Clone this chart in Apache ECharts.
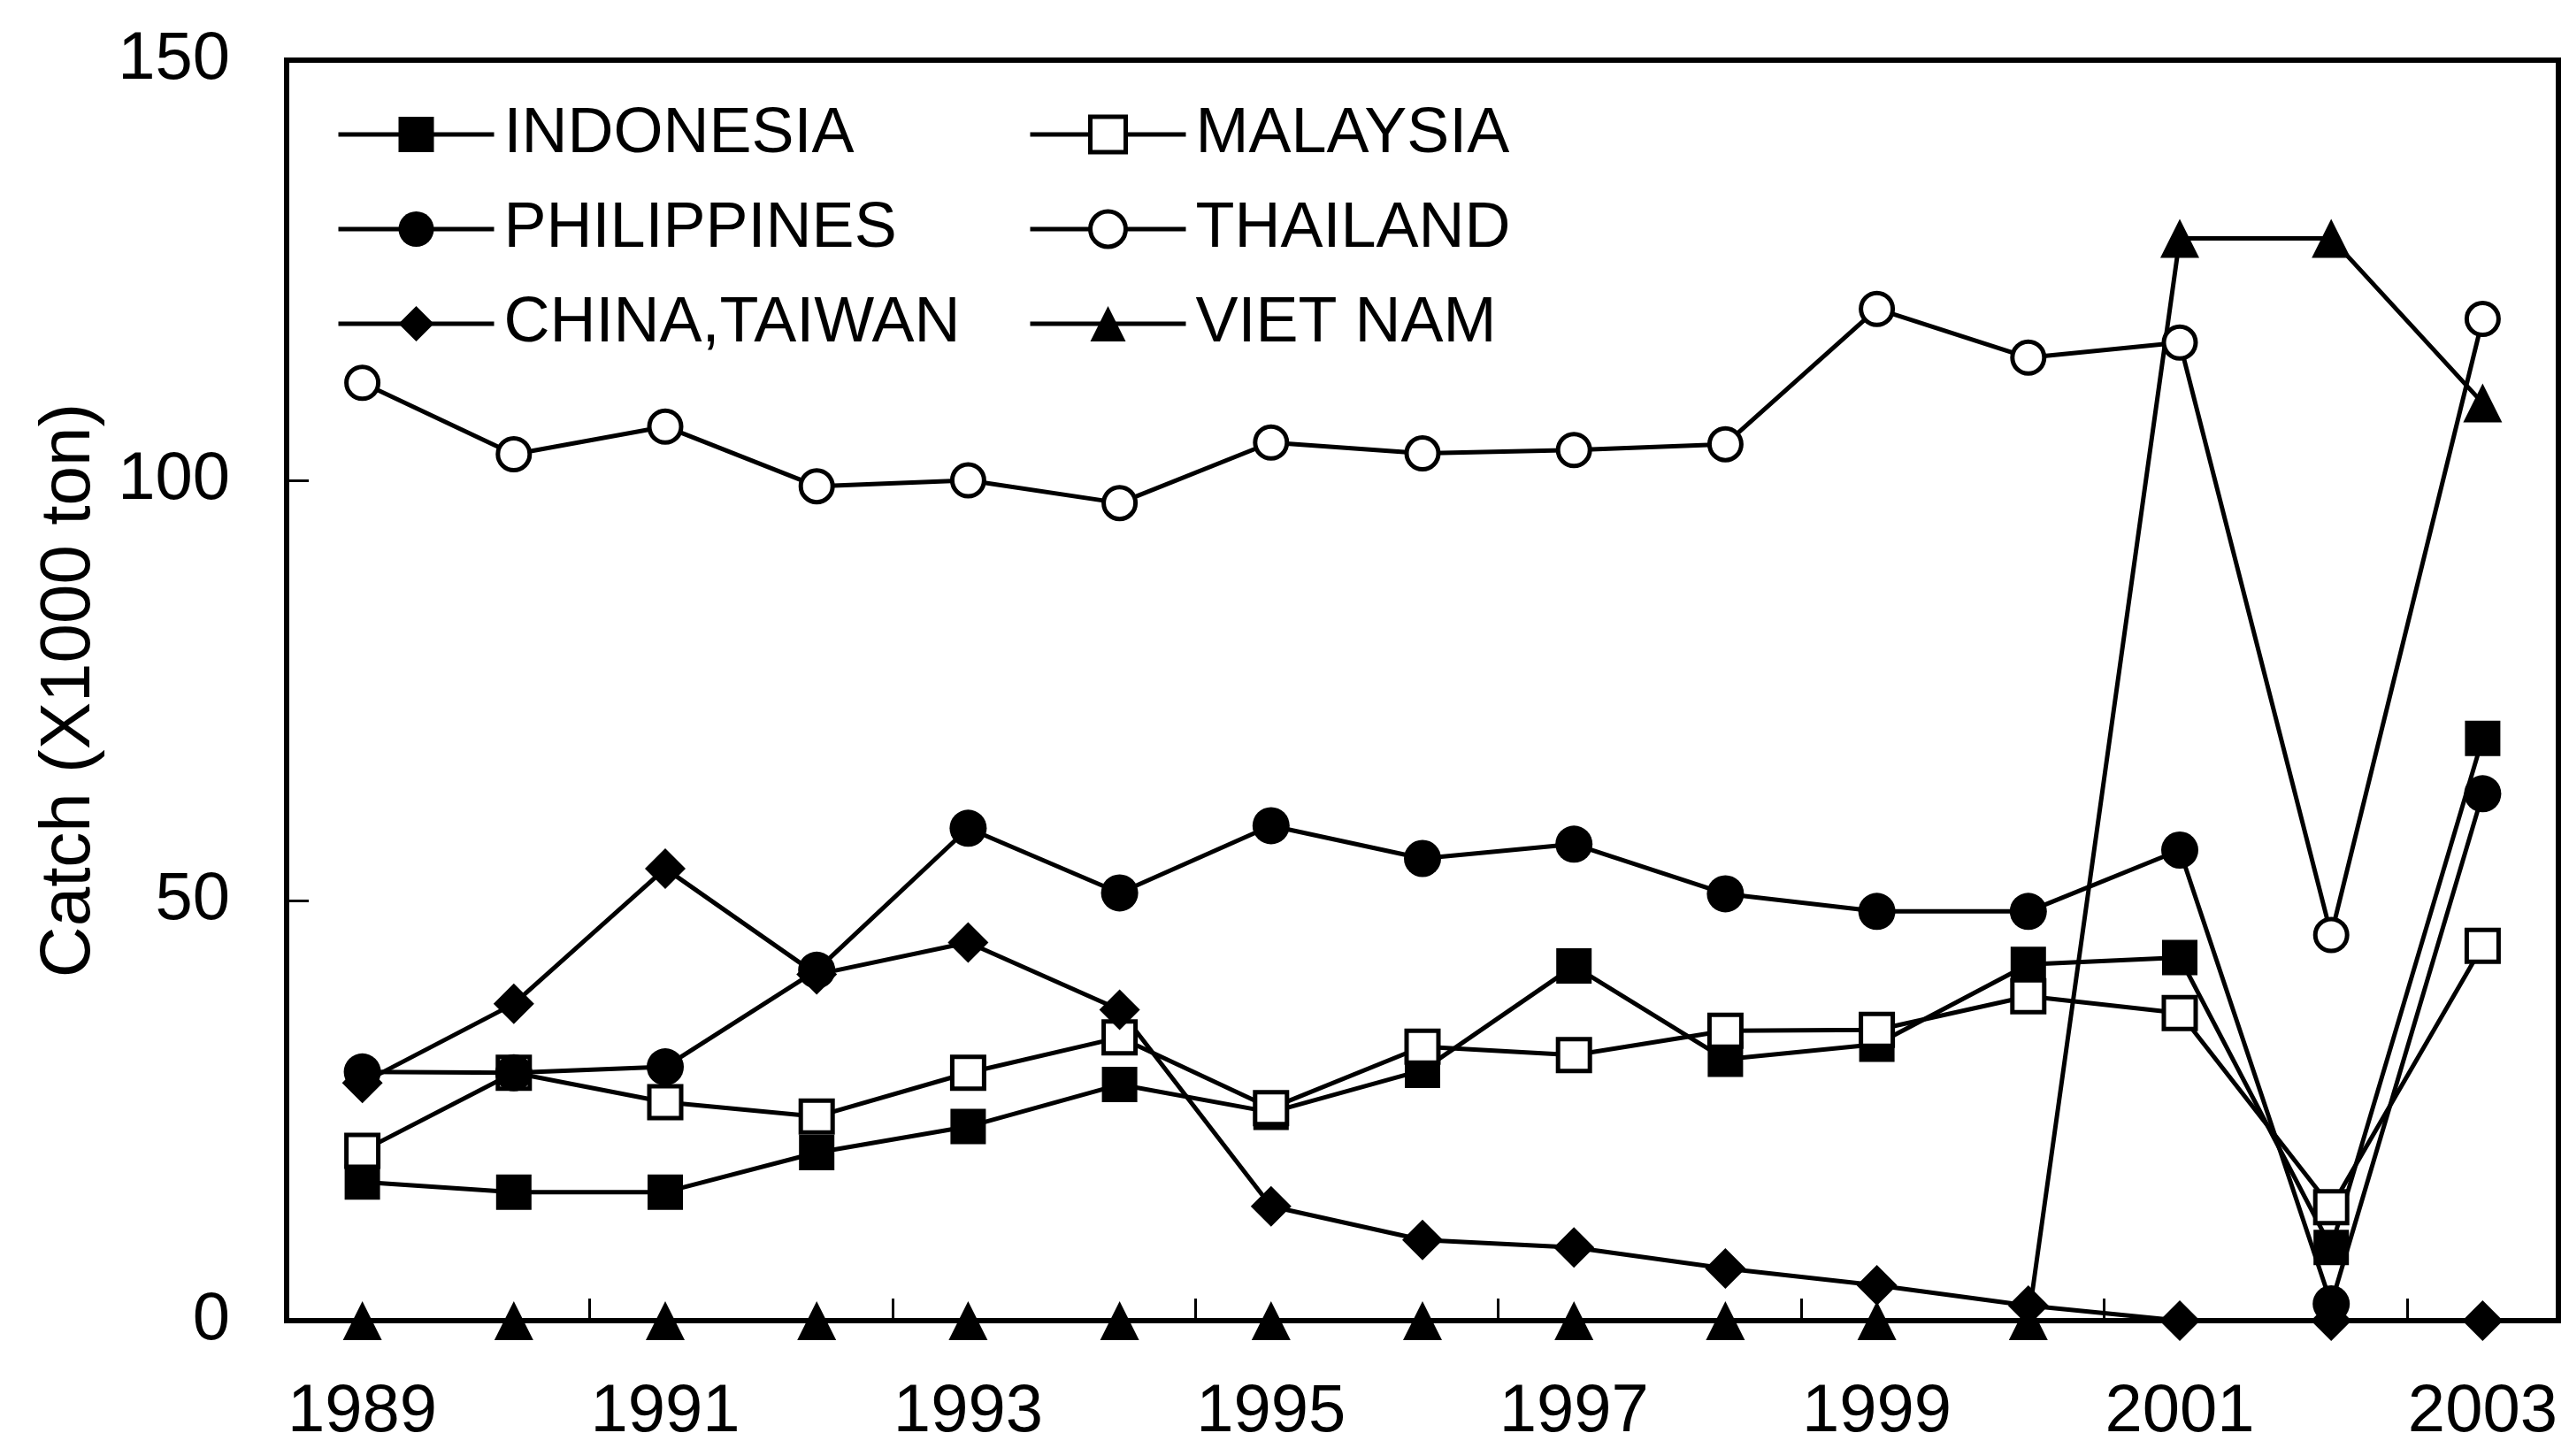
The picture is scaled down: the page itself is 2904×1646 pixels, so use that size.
<!DOCTYPE html>
<html>
<head>
<meta charset="utf-8">
<script src="https://cdn.jsdelivr.net/npm/echarts@6/dist/echarts.min.js"></script>
<style>
html,body{margin:0;padding:0;background:#fff;}
#chart{width:2904px;height:1646px;}
</style>
</head>
<body>
<div id="chart"></div>
<script>
const years = ['1989','1990','1991','1992','1993','1994','1995','1996','1997','1998','1999','2000','2001','2002','2003'];
const indonesia   = [16.5, 15.3, 15.3, 20.0, 23.1, 28.1, 24.8, 29.8, 42.2, 31.1, 32.9, 42.4, 43.2, 8.7, 69.3];
const malaysia    = [20.2, 29.5, 26.0, 24.3, 29.5, 33.7, 25.3, 32.6, 31.6, 34.5, 34.6, 38.6, 36.6, 13.5, 44.6];
const philippines = [29.6, 29.5, 30.2, 41.7, 58.6, 50.9, 58.9, 55.0, 56.7, 50.8, 48.7, 48.7, 56.0, 2.0, 62.7];
const thailand    = [111.6, 103.1, 106.4, 99.3, 100.0, 97.3, 104.5, 103.2, 103.6, 104.3, 120.4, 114.6, 116.4, 45.9, 119.2];
const chinaTaiwan = [28.3, 37.7, 53.8, 41.2, 45.0, 37.0, 13.6, 9.6, 8.7, 6.2, 4.2, 1.8, 0, 0, 0];
const vietNam     = [0, 0, 0, 0, 0, 0, 0, 0, 0, 0, 0, 0, 128.8, 128.8, 109.2];
const yTicks = [0, 50, 100, 150];

const FONT = "'Liberation Sans', Arial, sans-serif";
const BLACK = '#000';

function mkSeries(name, data, symbol, size, open) {
  return {
    name: name,
    type: 'line',
    data: data,
    symbol: symbol,
    symbolSize: size,
    clip: false,
    lineStyle: { color: BLACK, width: 5 },
    itemStyle: open
      ? { color: '#fff', borderColor: BLACK, borderWidth: 5 }
      : { color: BLACK, borderColor: BLACK, borderWidth: 0 },
    emphasis: { disabled: true },
    animation: false
  };
}

const series = [
  mkSeries('INDONESIA', indonesia, 'rect', 40, false),
  mkSeries('MALAYSIA', malaysia, 'rect', 36, true),
  mkSeries('PHILIPPINES', philippines, 'circle', 42, false),
  mkSeries('THAILAND', thailand, 'circle', 36, true),
  mkSeries('CHINA,TAIWAN', chinaTaiwan, 'diamond', 46, false),
  mkSeries('VIET NAM', vietNam, 'triangle', 44, false)
];

function legendItem(name, open) {
  return {
    name: name,
    itemStyle: open ? { color: '#fff', borderColor: BLACK, borderWidth: 5 } : { color: BLACK, borderWidth: 0 }
  };
}

const legendCommon = {
  orient: 'vertical',
  top: 116,
  padding: 0,
  itemWidth: 176,
  itemHeight: 50,
  itemGap: 35,
  selectedMode: false,
  lineStyle: { width: 5, color: BLACK },
  textStyle: { fontFamily: FONT, fontSize: 72, color: BLACK, lineHeight: 72, padding: [0, 0, 0, 6] }
};

const option = {
  backgroundColor: '#fff',
  animation: false,
  grid: {
    left: 324, top: 68, width: 2568, height: 1425,
    show: true, borderColor: BLACK, borderWidth: 6, backgroundColor: 'transparent'
  },
  legend: [
    Object.assign({}, legendCommon, {
      left: 380,
      data: [legendItem('INDONESIA', false), legendItem('PHILIPPINES', false), legendItem('CHINA,TAIWAN', false)]
    }),
    Object.assign({}, legendCommon, {
      left: 1162,
      data: [legendItem('MALAYSIA', true), legendItem('THAILAND', true), legendItem('VIET NAM', false)]
    })
  ],
  xAxis: {
    type: 'category',
    data: years,
    boundaryGap: true,
    axisLine: { show: true, lineStyle: { color: BLACK, width: 6 } },
    axisTick: { show: true, inside: true, length: 25, interval: 1, lineStyle: { color: BLACK, width: 3 } },
    axisLabel: { interval: 1, fontFamily: FONT, fontSize: 76, color: BLACK, margin: 66 },
    splitLine: { show: false }
  },
  yAxis: {
    type: 'value',
    min: 0, max: 150, interval: 50,
    name: 'Catch (X1000 ton)',
    nameLocation: 'middle',
    nameRotate: 90,
    nameGap: 205,
    nameTextStyle: { fontFamily: FONT, fontSize: 80, color: BLACK },
    axisLine: { show: true, lineStyle: { color: BLACK, width: 6 } },
    axisTick: { show: true, inside: true, length: 25, lineStyle: { color: BLACK, width: 3 } },
    axisLabel: {
      fontFamily: FONT, fontSize: 76, color: BLACK, margin: 64,
      formatter: function (v) { return yTicks.indexOf(v) >= 0 ? String(v) : ''; }
    },
    splitLine: { show: false }
  },
  series: series
};

const chart = echarts.init(document.getElementById('chart'), null, { renderer: 'canvas' });
chart.setOption(option);
</script>
</body>
</html>
